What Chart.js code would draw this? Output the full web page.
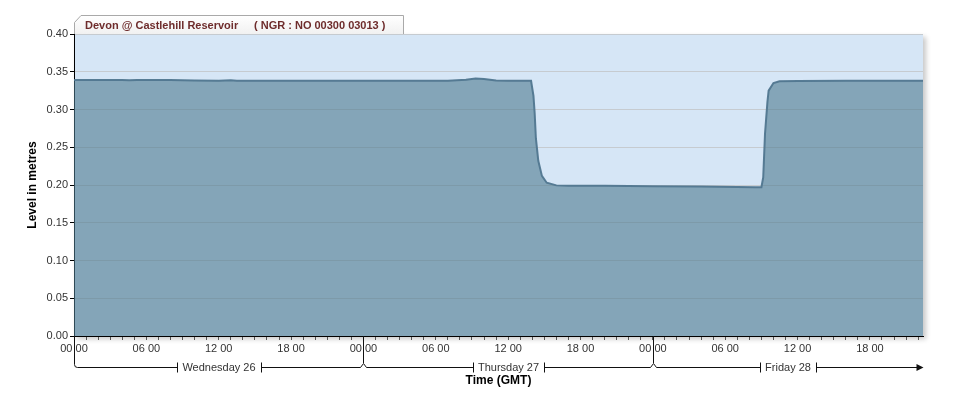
<!DOCTYPE html>
<html><head><meta charset="utf-8">
<script src="https://cdn.jsdelivr.net/npm/chart.js@4.4.0/dist/chart.umd.min.js"></script>
<style>html,body{margin:0;padding:0;background:#fff;}canvas{display:block}</style>
</head><body>
<canvas id="c" width="959" height="394"></canvas>
<script>
// ---- data ----
const stationTitle = 'Devon @ Castlehill Reservoir';
const stationRef = '( NGR : NO 00300 03013 )';
const yAxisTitle = 'Level in metres';
const xAxisTitle = 'Time (GMT)';
const hourLabels = ['00 00', '06 00', '12 00', '18 00'];
const dayLabels = ['Wednesday 26', 'Thursday 27', 'Friday 28'];
const dayStarts = [0, 24, 48];
const xMax = 70.4;
// hours since Wednesday 26 00:00 (GMT)
const hours = [0, 2, 4, 4.6, 5.2, 6, 8, 10, 12, 13, 13.5, 14, 16, 20, 24, 28, 31, 32.5, 33.3, 34, 35, 36, 37.9,
  38.1, 38.2, 38.3, 38.5, 38.8, 39.2, 40, 41, 44, 48, 52, 55, 56.5, 57.0,
  57.15, 57.3, 57.5, 57.6, 58.0, 58.5, 60, 64, 70.4];
const levels = [0.339, 0.339, 0.3392, 0.3388, 0.3392, 0.339, 0.339, 0.3385, 0.338, 0.3386, 0.338, 0.338, 0.338, 0.338, 0.338, 0.338, 0.338, 0.3395, 0.3412, 0.3405, 0.3385, 0.338, 0.338,
  0.318, 0.295, 0.262, 0.232, 0.212, 0.203, 0.1995, 0.199, 0.199, 0.1985, 0.198, 0.1975, 0.197, 0.197,
  0.21, 0.268, 0.31, 0.325, 0.335, 0.3375, 0.3378, 0.338, 0.338];
const yMin = 0, yMax = 0.4, yStep = 0.05;

const FONT = "'Liberation Sans', Arial, sans-serif";

const decor = {
  id: 'decor',
  beforeDraw(chart) {
    const {ctx, chartArea: a} = chart;
    ctx.save();
    ctx.fillStyle = '#fff';
    ctx.fillRect(0, 0, chart.width, chart.height);
    // plot background with soft shadow
    ctx.shadowColor = 'rgba(0,0,0,0.22)';
    ctx.shadowBlur = 5;
    ctx.shadowOffsetX = 3;
    ctx.shadowOffsetY = 3;
    ctx.fillStyle = '#d6e6f6';
    ctx.fillRect(a.left, a.top, a.right - a.left, a.bottom - a.top);
    ctx.restore();
    // tab
    ctx.save();
    const tl = a.left, tr = 403.5, tt = 15.5, tb = a.top;
    const g = ctx.createLinearGradient(0, tt, 0, tb);
    g.addColorStop(0, '#ffffff');
    g.addColorStop(1, '#f1f1f1');
    ctx.beginPath();
    ctx.moveTo(tl + 0.5, tb);
    ctx.lineTo(tl + 0.5, tt + 7);
    ctx.lineTo(tl + 7, tt);
    ctx.lineTo(tr, tt);
    ctx.lineTo(tr, tb);
    ctx.fillStyle = g;
    ctx.fill();
    ctx.strokeStyle = '#a9a9a9';
    ctx.lineWidth = 1;
    ctx.stroke();
    ctx.fillStyle = '#6e2c2c';
    ctx.font = 'bold 11px ' + FONT;
    ctx.textBaseline = 'middle';
    ctx.textAlign = 'left';
    ctx.fillText(stationTitle, 85, 25.5);
    ctx.fillText(stationRef, 254, 25.5);
    ctx.restore();
  },
  afterDraw(chart) {
    const {ctx, chartArea: a} = chart;
    const xs = chart.scales.x;
    ctx.save();
    ctx.strokeStyle = '#111';
    ctx.fillStyle = '#111';
    ctx.lineWidth = 1;
    const by = 367.5;
    const bx = dayStarts.map(h => Math.round(xs.getPixelForValue(h)) + 0.5);
    const endX = Math.round(a.right) - 0.5;
    // long ticks at day boundaries
    bx.forEach((x, i) => {
      ctx.beginPath();
      ctx.moveTo(x, a.bottom);
      ctx.lineTo(x, i === 0 ? by - 3 : by - 4.5);
      ctx.stroke();
    });
    ctx.font = '11px ' + FONT;
    ctx.textBaseline = 'middle';
    ctx.textAlign = 'center';
    dayLabels.forEach((lab, i) => {
      const x0 = bx[i];
      const x1 = i + 1 < bx.length ? bx[i + 1] : endX;
      const cx = (x0 + x1) / 2;
      const w = ctx.measureText(lab).width;
      const c0 = Math.round(cx - w / 2 - 5) + 0.5;
      const c1 = Math.round(cx + w / 2 + 5) + 0.5;
      ctx.beginPath();
      if (i === 0) {
        ctx.moveTo(x0, by - 3);
        ctx.quadraticCurveTo(x0, by, x0 + 3, by);
      } else {
        ctx.moveTo(x0, by - 4);
        ctx.lineTo(x0 + 3, by);
      }
      ctx.lineTo(c0, by);
      ctx.moveTo(c0, by - 5); ctx.lineTo(c0, by + 5);
      ctx.moveTo(c1, by - 5); ctx.lineTo(c1, by + 5);
      ctx.moveTo(c1, by);
      if (i + 1 < bx.length) {
        ctx.lineTo(x1 - 3, by);
        ctx.lineTo(x1, by - 4);
      } else {
        ctx.lineTo(endX - 5, by);
      }
      ctx.stroke();
      ctx.fillStyle = '#333';
      ctx.fillText(lab, cx, by);
    });
    // arrow head
    ctx.fillStyle = '#111';
    ctx.beginPath();
    ctx.moveTo(endX - 6, by - 3.5);
    ctx.lineTo(endX + 1, by);
    ctx.lineTo(endX - 6, by + 3.5);
    ctx.closePath();
    ctx.fill();
    ctx.restore();
  }
};

new Chart(document.getElementById('c'), {
  type: 'line',
  data: {
    datasets: [{
      data: hours.map((h, i) => ({x: h, y: levels[i]})),
      borderColor: 'rgba(80,118,143,0.95)',
      borderWidth: 2,
      backgroundColor: 'rgba(77,122,143,0.6)',
      fill: 'origin',
      pointRadius: 0,
      tension: 0
    }]
  },
  options: {
    responsive: false,
    devicePixelRatio: 1,
    animation: false,
    layout: {padding: {left: 0, right: 36, top: 34, bottom: 0}},
    plugins: {legend: {display: false}, tooltip: {enabled: false}},
    scales: {
      x: {
        type: 'linear', min: 0, max: xMax,
        afterFit(s) { s.height = 58; },
        border: {display: true, color: '#000', width: 1},
        grid: {drawOnChartArea: false, drawTicks: true, tickLength: 4, tickColor: '#555'},
        ticks: {
          stepSize: 1, autoSkip: false, maxRotation: 0, minRotation: 0, includeBounds: false,
          padding: 2, color: '#333', font: {family: FONT, size: 11},
          callback(v) { return (Math.abs(v % 6) < 1e-6) ? hourLabels[Math.round((v % 24) / 6) % 4] : ''; }
        },
        title: {display: true, text: xAxisTitle, color: '#000', font: {family: FONT, size: 12, weight: 'bold'}, padding: {top: 0, bottom: 6}}
      },
      y: {
        min: yMin, max: yMax,
        afterFit(s) { s.width = 74; },
        border: {display: true, color: '#000', width: 1},
        grid: {color: '#c6cbd0', tickColor: '#000', tickLength: 4, lineWidth: 1},
        ticks: {stepSize: yStep, padding: 2, color: '#333', font: {family: FONT, size: 11}, callback: v => Number(v).toFixed(2)},
        title: {display: true, text: yAxisTitle, color: '#000', font: {family: FONT, size: 12, weight: 'bold'}, padding: {top: 25, bottom: 0}}
      }
    }
  },
  plugins: [decor]
});
</script>
</body></html>
